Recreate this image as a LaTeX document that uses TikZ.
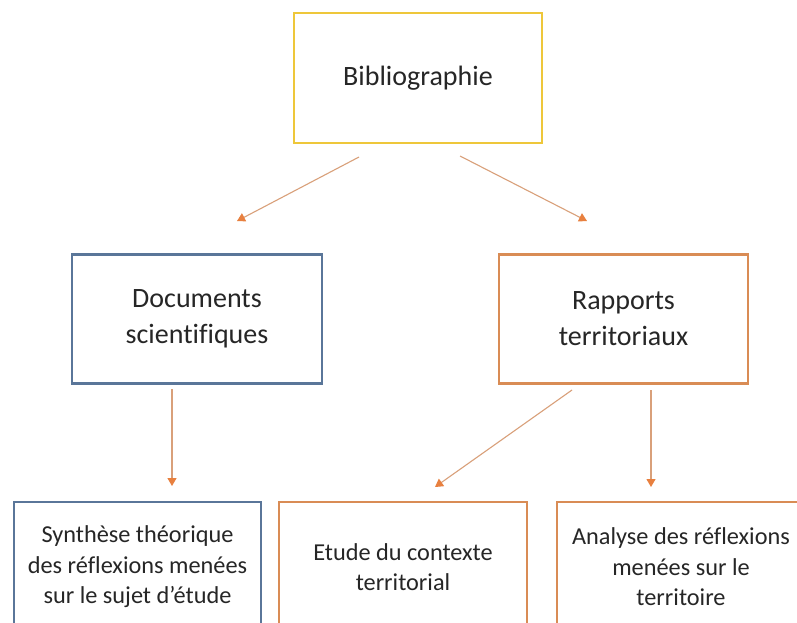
\documentclass[tikz,border=0pt]{standalone}
\usepackage{fontspec}
\setmainfont{Carlito}[Ligatures=NoCommon]
\usetikzlibrary{arrows.meta}
\definecolor{cyellow}{HTML}{EEC73A}
\definecolor{cblue}{HTML}{5A7699}
\definecolor{corange}{HTML}{D98C55}
\definecolor{carrow}{HTML}{D9A07A}
\definecolor{ctip}{HTML}{E8803F}
\definecolor{ctext}{HTML}{262626}
\tikzset{
  boxnode/.style={draw, line width=2.2pt, rectangle, align=center, text=ctext,
    font=\fontsize{28}{36}\selectfont, inner sep=0pt},
  lowbox/.style={boxnode, font=\fontsize{24.3}{30.5}\selectfont},
  conn/.style={draw=carrow, line width=1.1pt, -{Triangle[width=9pt,length=8pt,color=ctip]}}
}
\begin{document}
\begin{tikzpicture}[x=1pt,y=-1pt]
\clip (0,0) rectangle (797,622);
\fill[white] (0,0) rectangle (797,622);
\node[boxnode, draw=cyellow, minimum width=248pt, minimum height=130pt] (bib) at (418,78) {Bibliographie};
\node[boxnode, draw=cblue, minimum width=250pt, minimum height=129pt] (doc) at (197,319) {Documents\\scientifiques};
\node[boxnode, draw=corange, minimum width=249pt, minimum height=129pt] (rap) at (623.5,319) {Rapports\\territoriaux};
\node[lowbox, draw=cblue, minimum width=247pt, minimum height=130pt] (syn) at (137.5,567) {Synthèse théorique\\des réflexions menées\\sur le sujet d’étude};
\node[lowbox, draw=corange, minimum width=248pt, minimum height=130pt] (etu) at (403,567) {Etude du contexte\\territorial};
\node[lowbox, draw=corange, minimum width=248pt, minimum height=130pt] (ana) at (681,567) {Analyse des réflexions\\menées sur le\\territoire};
\coordinate (b1) at (359,157);
\coordinate (b2) at (460,156);
\coordinate (d1) at (237,221);
\coordinate (r1) at (587,221);
\coordinate (ds) at (172,389);
\coordinate (se) at (172,486);
\coordinate (rs1) at (572,390);
\coordinate (ee) at (435,487);
\coordinate (rs2) at (651,390);
\coordinate (ae) at (651,487);
\draw[conn] (b1) -- (d1);
\draw[conn] (b2) -- (r1);
\draw[conn] (ds) -- (se);
\draw[conn] (rs1) -- (ee);
\draw[conn] (rs2) -- (ae);
\end{tikzpicture}
\end{document}
